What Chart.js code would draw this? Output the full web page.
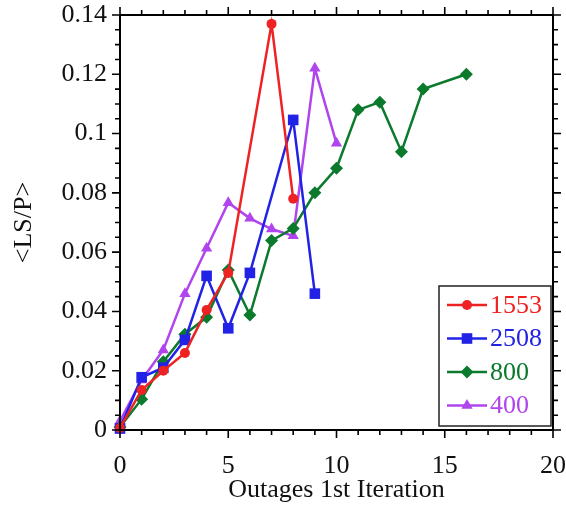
<!DOCTYPE html>
<html>
<head>
<meta charset="utf-8">
<script src="https://cdn.jsdelivr.net/npm/chart.js@4"></script>
<style>
  body { margin: 0; background: #fff; }
  canvas { display: block; }
</style>
</head>
<body>
<canvas id="chart" width="566" height="506"></canvas>
<script>
const seriesLabels = ['1553', '2508', '800', '400'];
const seriesColors = ['#ee2222', '#2222e6', '#0c7a2c', '#b044ee'];
const seriesMarkers = ['circle', 'rect', 'rectRot', 'triangle'];
const markerSizes = [5, 7.5, 6.5, 6.5];

const x1553 = [0, 1, 2, 3, 4, 5, 7, 8];
const y1553 = [0.0007, 0.0135, 0.020, 0.026, 0.0405, 0.053, 0.137, 0.078];

const x2508 = [0, 1, 2, 3, 4, 5, 6, 8, 9];
const y2508 = [0.0005, 0.0178, 0.021, 0.0304, 0.052, 0.0343, 0.053, 0.1046, 0.046];

const x800 = [0, 1, 2, 3, 4, 5, 6, 7, 8, 9, 10, 11, 12, 13, 14, 16];
const y800 = [0.001, 0.0104, 0.023, 0.0323, 0.038, 0.054, 0.0388, 0.0639, 0.068, 0.080, 0.0883, 0.108, 0.1106, 0.0939, 0.115, 0.120];

const x400 = [0, 1, 2, 3, 4, 5, 6, 7, 8, 9, 10];
const y400 = [0.003, 0.0169, 0.027, 0.046, 0.0613, 0.0767, 0.0714, 0.0678, 0.0655, 0.122, 0.0967];

const xTicks = [0, 5, 10, 15, 20];
const yTicks = [0, 0.02, 0.04, 0.06, 0.08, 0.1, 0.12, 0.14];

const fontFamily = '"Liberation Serif", "Times New Roman", serif';

function toPoints(xs, ys) {
  return xs.map((x, i) => ({ x: x, y: ys[i] }));
}

const allX = [x1553, x2508, x800, x400];
const allY = [y1553, y2508, y800, y400];

const datasets = seriesLabels.map((label, i) => ({
  label: label,
  data: toPoints(allX[i], allY[i]),
  borderColor: seriesColors[i],
  backgroundColor: seriesColors[i],
  borderWidth: 2.5,
  pointStyle: seriesMarkers[i],
  pointRadius: markerSizes[i],
  pointHoverRadius: markerSizes[i],
  pointBorderWidth: 0,
  tension: 0,
  clip: false,
}));

// frame, outward ticks on all four sides, and the boxed legend
const framePlugin = {
  id: 'frame',
  afterDatasetsDraw(chart) {
    const ctx = chart.ctx;
    const area = chart.chartArea;
    const xs = chart.scales.x;
    const ys = chart.scales.y;

    ctx.save();
    ctx.strokeStyle = '#000';
    ctx.lineWidth = 2;
    ctx.strokeRect(area.left, area.top, area.right - area.left, area.bottom - area.top);

    ctx.lineWidth = 1.6;
    ctx.beginPath();
    for (let v = 0; v <= 20; v++) {
      const px = xs.getPixelForValue(v);
      const len = v % 5 === 0 ? 8 : 5;
      ctx.moveTo(px, area.bottom);
      ctx.lineTo(px, area.bottom + len);
      ctx.moveTo(px, area.top);
      ctx.lineTo(px, area.top - len);
    }
    for (let k = 0; k <= 28; k++) {
      const py = ys.getPixelForValue(k * 0.005);
      const len = k % 4 === 0 ? 8 : 5;
      ctx.moveTo(area.left, py);
      ctx.lineTo(area.left - len, py);
      ctx.moveTo(area.right, py);
      ctx.lineTo(area.right + len, py);
    }
    ctx.stroke();

    // legend box
    const box = { left: 439, top: 286, width: 112, height: 140 };
    ctx.fillStyle = '#fff';
    ctx.fillRect(box.left, box.top, box.width, box.height);
    ctx.lineWidth = 1.5;
    ctx.strokeStyle = '#222';
    ctx.strokeRect(box.left, box.top, box.width, box.height);

    ctx.font = '26px ' + fontFamily;
    ctx.textBaseline = 'middle';
    ctx.textAlign = 'left';
    chart.data.datasets.forEach((ds, i) => {
      const y = box.top + 19 + i * 33.5;
      ctx.strokeStyle = ds.borderColor;
      ctx.lineWidth = 2.5;
      ctx.beginPath();
      ctx.moveTo(447, y);
      ctx.lineTo(487, y);
      ctx.stroke();
      ctx.fillStyle = ds.backgroundColor;
      Chart.helpers.drawPoint(ctx, { pointStyle: ds.pointStyle, radius: ds.pointRadius, borderWidth: 0 }, 467, y);
      ctx.fillText(ds.label, 490, y + 1);
    });
    ctx.restore();
  },
};

const config = {
  type: 'line',
  data: { datasets: datasets },
  options: {
    responsive: false,
    animation: false,
    layout: { padding: { left: 0, right: 13, top: 15, bottom: 0 } },
    plugins: {
      legend: { display: false },
      tooltip: { enabled: false },
    },
    scales: {
      x: {
        type: 'linear',
        min: 0,
        max: 20,
        afterBuildTicks: (scale) => {
          scale.ticks = xTicks.map((v) => ({ value: v }));
        },
        afterFit: (scale) => {
          scale.height = 76;
          scale.paddingLeft = 0;
          scale.paddingRight = 0;
        },
        grid: { display: false, drawTicks: false },
        border: { display: false },
        ticks: {
          color: '#111',
          font: { family: fontFamily, size: 26 },
          padding: 21,
          maxRotation: 0,
        },
        title: {
          display: true,
          text: 'Outages 1st Iteration',
          color: '#111',
          font: { family: fontFamily, size: 26 },
          padding: { top: -3, bottom: 0 },
        },
      },
      y: {
        type: 'linear',
        min: 0,
        max: 0.14,
        afterBuildTicks: (scale) => {
          scale.ticks = yTicks.map((v) => ({ value: v }));
        },
        afterFit: (scale) => {
          scale.width = 120;
          scale.paddingTop = 0;
          scale.paddingBottom = 0;
        },
        grid: { display: false, drawTicks: false },
        border: { display: false },
        ticks: {
          color: '#111',
          font: { family: fontFamily, size: 26 },
          padding: 13,
          callback: (v) => String(+v.toFixed(2)),
        },
        title: {
          display: true,
          text: '<LS/P>',
          color: '#111',
          font: { family: fontFamily, size: 26 },
          padding: { top: 9, bottom: 0 },
        },
      },
    },
  },
  plugins: [framePlugin],
};

new Chart(document.getElementById('chart'), config);
</script>
</body>
</html>
